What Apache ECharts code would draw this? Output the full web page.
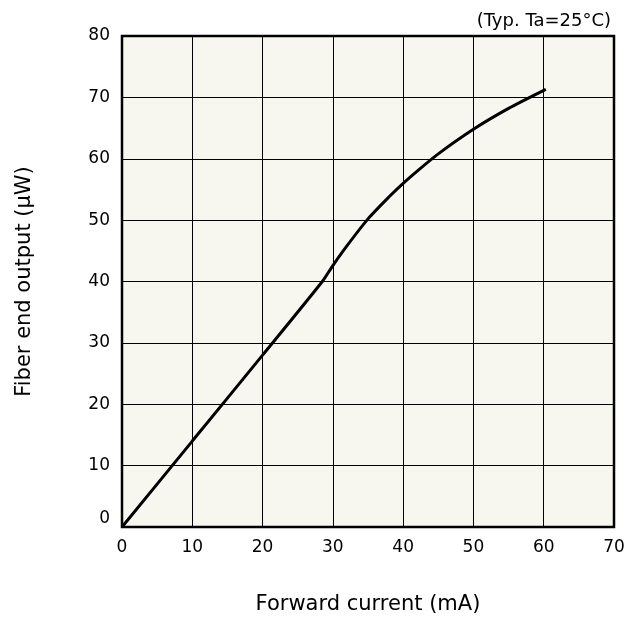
<!DOCTYPE html>
<html>
<head>
<meta charset="utf-8">
<script src="https://cdn.jsdelivr.net/npm/echarts@6/dist/echarts.min.js"></script>
<style>html,body{margin:0;padding:0;background:#fff}#c{width:640px;height:625px}</style>
</head>
<body>
<div id="c"></div>
<script>
var current = [0, 10, 20, 28.5, 30, 32, 35, 38, 40, 42, 45, 50, 55, 60.3];
var output = [0, 14, 28, 40, 42.6, 45.8, 50.2, 53.8, 56, 58, 60.8, 64.8, 68.2, 71.3];
var xTicks = [0, 10, 20, 30, 40, 50, 60, 70];
var yTicks = [0, 10, 20, 30, 40, 50, 60, 70, 80];
var font = 'DejaVu Sans, Verdana, sans-serif';
var chart = echarts.init(document.getElementById('c'), null, {renderer: 'canvas'});
chart.setOption({
  animation: false,
  title: {text: '(Typ. Ta=25°C)', right: 24, top: 7, textStyle: {fontFamily: font, fontSize: 18, fontWeight: 'normal', color: '#000'}},
  grid: {left: 122, top: 36, width: 492, height: 491, show: true, backgroundColor: '#f7f6ef', borderColor: '#000', borderWidth: 2.5},
  xAxis: {
    type: 'value', min: xTicks[0], max: xTicks[xTicks.length - 1], interval: 10,
    name: 'Forward current (mA)', nameLocation: 'middle', nameGap: 67,
    nameTextStyle: {fontFamily: font, fontSize: 21, color: '#000'},
    axisLine: {show: false}, axisTick: {show: false},
    axisLabel: {fontFamily: font, fontSize: 17, color: '#000', margin: 12},
    splitLine: {show: true, lineStyle: {color: '#000', width: 1}}
  },
  yAxis: {
    type: 'value', min: yTicks[0], max: yTicks[yTicks.length - 1], interval: 10,
    name: 'Fiber end output (μW)', nameLocation: 'middle', nameGap: 87, nameRotate: 90,
    nameTextStyle: {fontFamily: font, fontSize: 21, color: '#000'},
    axisLine: {show: false}, axisTick: {show: false},
    axisLabel: {fontFamily: font, fontSize: 17, color: '#000', margin: 12, verticalAlignMinLabel: 'bottom'},
    splitLine: {show: true, lineStyle: {color: '#000', width: 1}}
  },
  series: [{
    type: 'line', data: current.map(function (c, i) { return [c, output[i]]; }),
    smooth: 0.25, showSymbol: false, lineStyle: {color: '#000', width: 3}
  }]
});
</script>
</body>
</html>
